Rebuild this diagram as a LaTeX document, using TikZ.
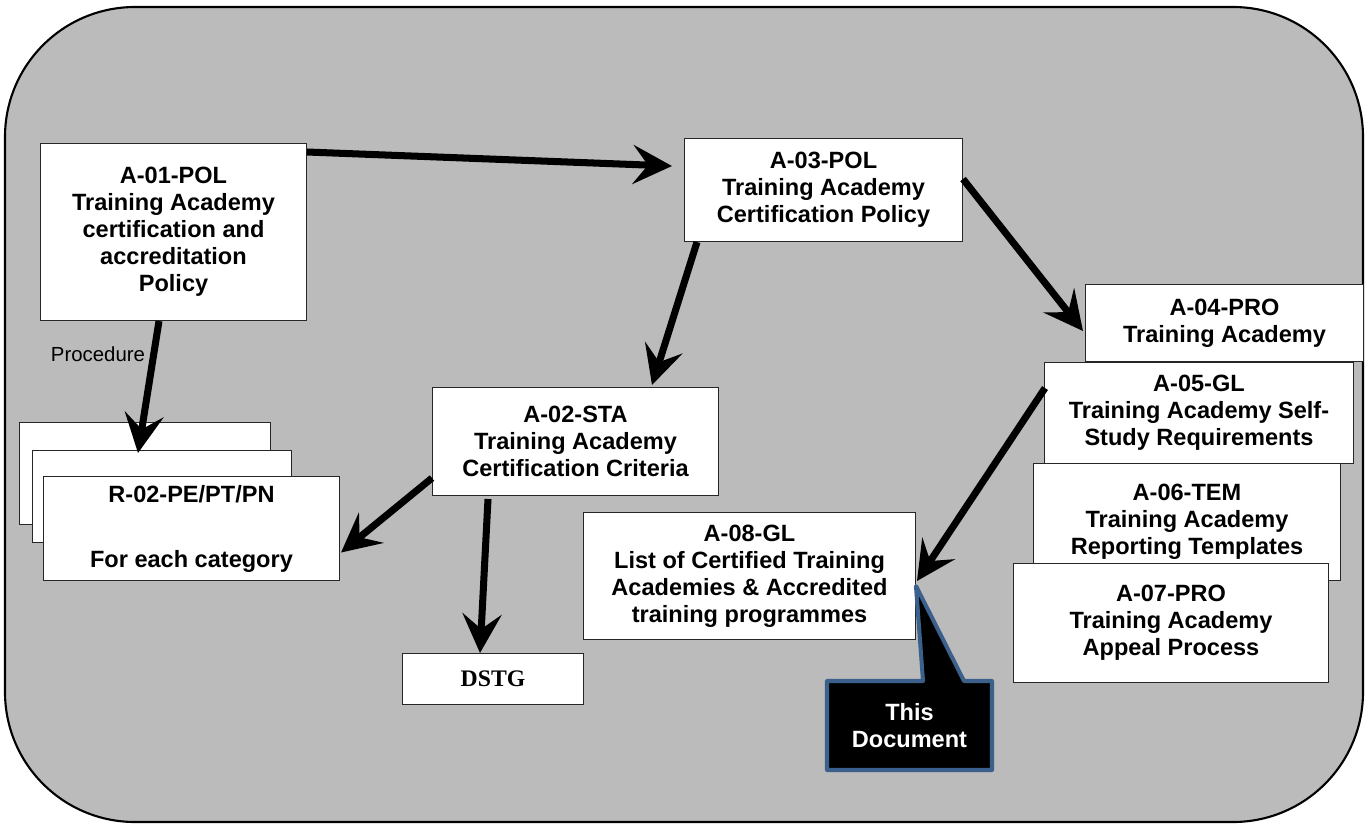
\documentclass[tikz,border=0pt]{standalone}
\usepackage{fontspec}
\setmainfont{Liberation Sans}
\newfontfamily\serifbold{Liberation Serif}
\usepackage{tikz}
\usetikzlibrary{arrows.meta,calc}

\definecolor{framegray}{RGB}{187,187,187}
\definecolor{noteblue}{RGB}{60,96,140}

\tikzset{
  frame/.style={draw=black, fill=framegray, line width=1.2pt, rounded corners=2.6cm},
  docbox/.style={draw=black!85, fill=white, line width=0.6pt, anchor=north west,
    align=center, inner sep=2pt, font=\fontsize{13.4}{15.4}\selectfont\bfseries},
  flow/.style={line width=4pt, -{Stealth[length=0.78cm,width=0.78cm,inset=0.3cm]}},
  notetext/.style={text=white, align=center, font=\fontsize{13.4}{15.4}\selectfont\bfseries},
}

\begin{document}
\begin{tikzpicture}[x=0.02cm, y=-0.02cm]
\useasboundingbox (0,0) rectangle (1369,825);
%%%%% Frame %%%%%
\draw[frame] (5,7) rectangle (1363,822);

%%%%% Documents %%%%%
\node[docbox, minimum width=5.32cm, minimum height=3.54cm] (a01) at (40,143)
  {A-01-POL\\Training Academy\\certification and\\accreditation\\Policy};
\node[docbox, minimum width=5.56cm, minimum height=2.06cm] (a03) at (684,138)
  {A-03-POL\\Training Academy\\Certification Policy};
\node[docbox, minimum width=5.72cm, minimum height=2.16cm] (a02) at (432,387)
  {A-02-STA\\Training Academy\\Certification Criteria};
\node[docbox, minimum width=6.64cm, minimum height=2.54cm] (a08) at (583,512)
  {A-08-GL\\List of Certified Training\\Academies \& Accredited\\training programmes};
\node[docbox, minimum width=3.62cm, minimum height=1.02cm, font=\serifbold\bfseries\fontsize{13.5}{15}\selectfont] (dstg) at (402,653) {DSTG};

\foreach \nm/\x/\y/\w/\h in {rback/19/422/5.02/2.04, rmid/32/450/5.18/1.84}
  \node[docbox, minimum width=\w cm, minimum height=\h cm] (\nm) at (\x,\y) {};
\node[docbox, minimum width=5.92cm, minimum height=2.08cm] (r02) at (43,476)
  {R-02-PE/PT/PN\\[0.76cm]For each category};

\node[docbox, minimum width=5.56cm, minimum height=1.54cm] (a04) at (1085,284)
  {A-04-PRO\\Training Academy};
\node[docbox, minimum width=6.18cm, minimum height=2.02cm] (a05) at (1044,362)
  {A-05-GL\\Training Academy Self-\\Study Requirements};
\node[docbox, minimum width=6.14cm, minimum height=2.34cm] (a06) at (1033,463)
  {A-06-TEM\\Training Academy\\Reporting Templates};
\node[docbox, minimum width=6.30cm, minimum height=2.38cm] (a07) at (1013,563)
  {A-07-PRO\\Training Academy\\Appeal Process};

%%%%% Callout %%%%%
\filldraw[fill=black, draw=noteblue, line width=2.3pt, line join=round]
  (827,681) -- (923,681) -- ($(a08.east)+(0,10)$) -- (964,681) -- (992,681)
  -- (992,770) -- (827,770) -- cycle;
\node[notetext] (note) at (909.5,725.5) {This\\Document};

%%%%% Arrows %%%%%
\draw[flow] ($(a01.north east)+(0,9)$) -- ($(a03.west)+(-12,-24)$);
\draw[flow] ($(a03.south west)+(13,0)$) -- ($(a02.north east)+(-67,-2)$);
\draw[flow] ($(a03.east)+(0,-11)$) -- ($(a04.west)+(-2,8)$);
\draw[flow] ($(a05.west)+(1,-25)$) -- ($(a08.east)+(1,5)$);
\draw[flow] ($(a01.south west)+(119,0)$) --
  node[pos=0.25, left=3pt, inner sep=0pt, font=\fontsize{11.6}{13}\selectfont] (proc) {Procedure}
  ($(rmid.north west)+(106,3)$);
\draw[flow] ($(a02.south west)+(0,-18)$) -- ($(r02.east)+(1,24)$);
\draw[flow] ($(a02.south west)+(56,3)$) -- ($(dstg.north)+(-13,0)$);
\end{tikzpicture}
\end{document}
